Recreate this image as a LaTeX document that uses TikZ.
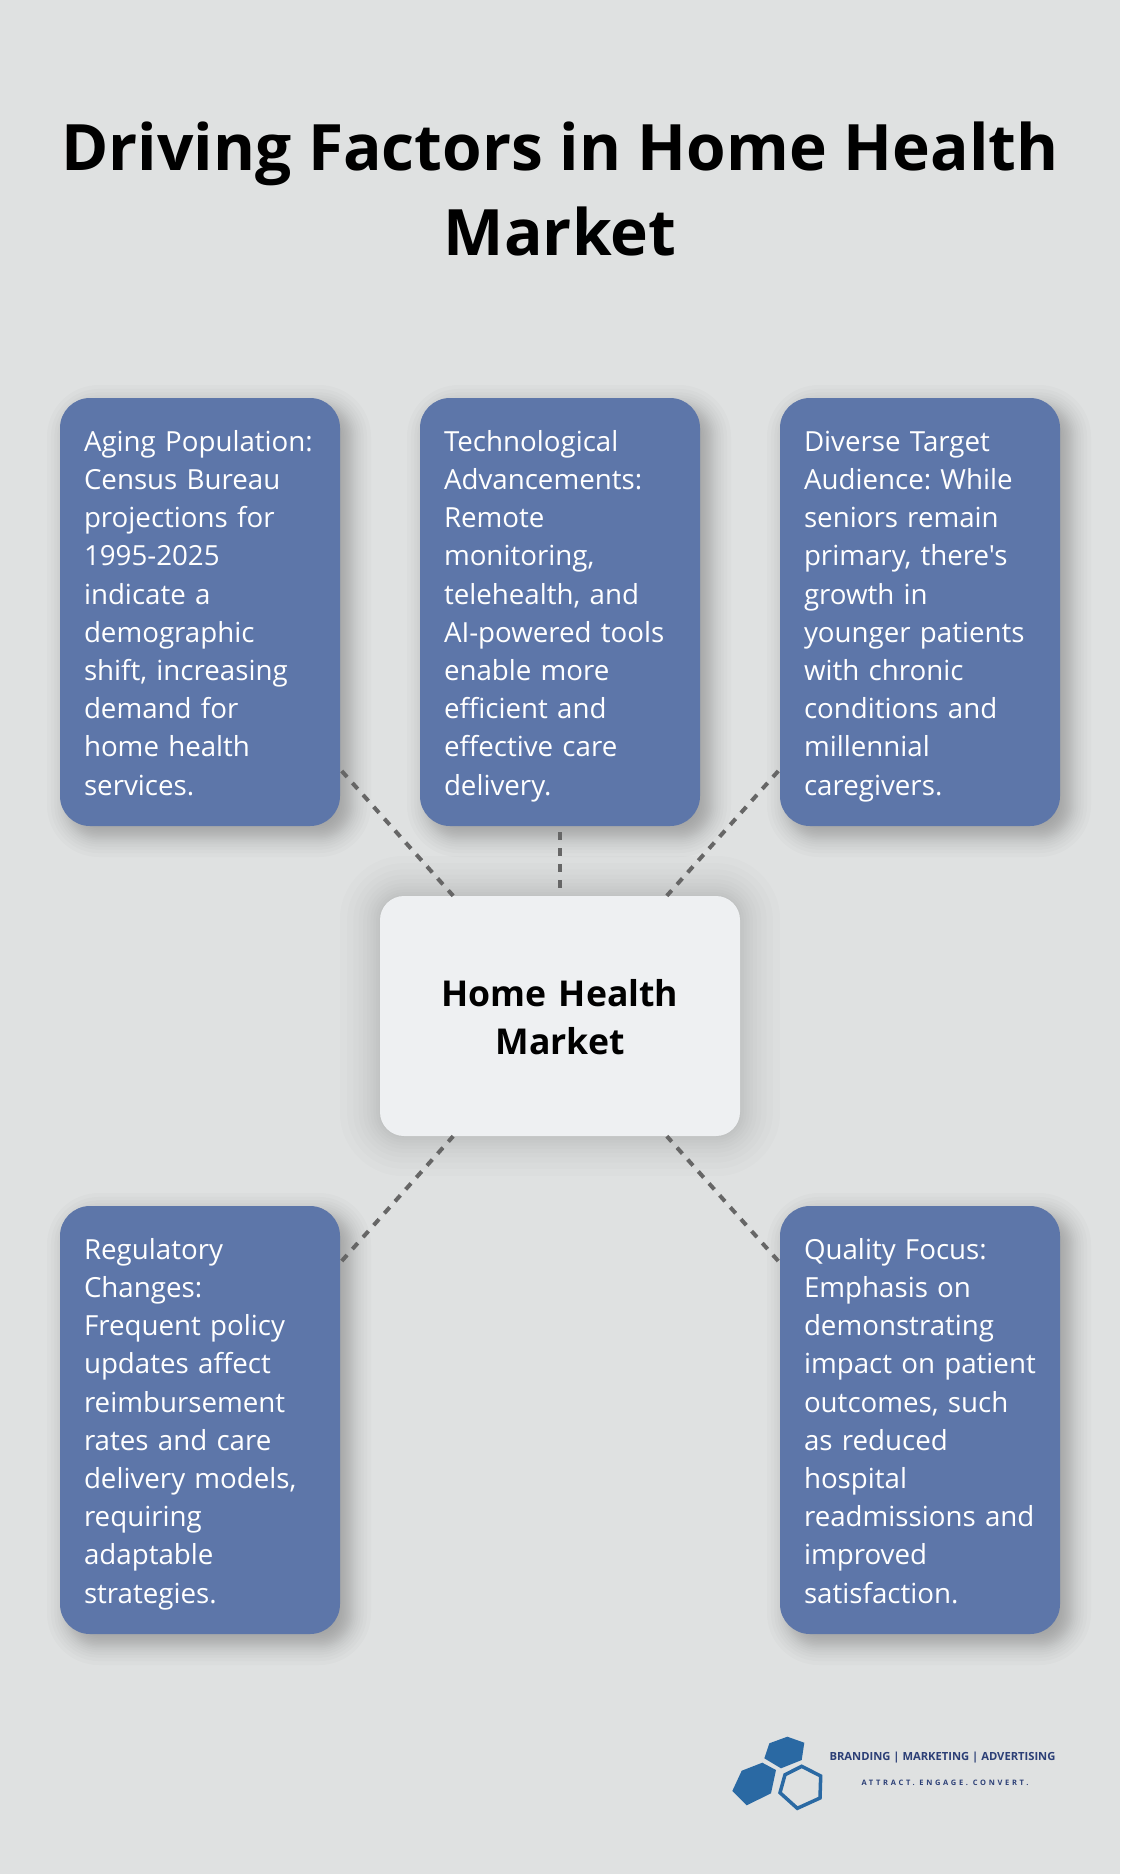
\documentclass[tikz,border=0pt]{standalone}
\usepackage{fontspec}
\newfontfamily\opensans{Open Sans}
\newfontfamily\taglinefont[LetterSpace=36]{Open Sans}
\usetikzlibrary{backgrounds}
\definecolor{pagegray}{HTML}{DFE1E1}
\definecolor{boxblue}{HTML}{5D76A9}
\definecolor{hubgray}{HTML}{EEF0F2}
\definecolor{dashgray}{HTML}{666666}
\definecolor{hexblue}{HTML}{2A69A3}
\definecolor{logonavy}{HTML}{2C3F76}
\newcommand{\softshadow}[5]{%
    \foreach \i in {1,...,20} {
        \pgfmathsetmacro{\frac}{(\i-10.5)/10}
        \pgfmathsetmacro{\grow}{#3*(0.55*\frac+0.45*\frac*\frac*\frac)}
        \pgfmathsetmacro{\rad}{max(#4+\grow,1)}
        \fill[black, opacity=#5, rounded corners=\rad pt]
            ([shift={(#2-\grow,#2-\grow)}]#1.north west) rectangle ([shift={(#2+\grow,#2+\grow)}]#1.south east);
    }}

\begin{document}
\frenchspacing
\begin{tikzpicture}[x=1pt, y=-1pt,
    factor/.style = {fill=boxblue, text=white, rounded corners=30pt, minimum width=280pt, minimum height=428pt,
        inner sep=0pt, text width=232pt, align=left, font=\opensans\fontsize{27.7}{38.2}\selectfont,
        execute at begin node={\hyphenpenalty=10000 \rightskip=-20pt plus 30pt \vrule height 34pt width 0pt},
        execute at end node=\strut},
    hub/.style = {fill=hubgray, rounded corners=24pt, minimum width=360pt, minimum height=240pt,
        inner sep=0pt, text width=300pt, align=center, font=\opensans\fontsize{35.6}{48}\selectfont\bfseries,
        execute at begin node={\vrule height 29pt width 0pt}},
    link/.style = {draw=dashgray, line width=4pt, dash pattern=on 8pt off 8pt}]
    \useasboundingbox (0,0) rectangle (1120,1874);

    % Nodes
    \node[align=center, font=\opensans\fontsize{64}{85}\selectfont\bfseries] (title) at (560,189) {Driving Factors in Home Health\\Market};

    \node[factor] (aging) at (200,612) {Aging Population:\\Census Bureau\\projections for\\1995-2025\\indicate a\\demographic\\shift, increasing\\demand for\\home health\\services.};
    \node[factor] (tech) at (560,612) {Technological\\Advancements:\\Remote\\monitoring,\\telehealth, and\\AI-powered tools\\enable more\\efficient and\\effective care\\delivery.};
    \node[factor] (audience) at (920,612) {Diverse Target\\Audience: While\\seniors remain\\primary, there's\\growth in\\younger patients\\with chronic\\conditions and\\millennial\\caregivers.};
    \node[factor] (regulatory) at (200,1420) {Regulatory\\Changes:\\Frequent policy\\updates affect\\reimbursement\\rates and care\\delivery models,\\requiring\\adaptable\\strategies.};
    \node[factor] (quality) at (920,1420) {Quality Focus:\\Emphasis on\\demonstrating\\impact on patient\\outcomes, such\\as reduced\\hospital\\readmissions and\\improved\\satisfaction.};

    \node[hub] (market) at (560,1016) {Home Health\\Market};

    \node[text=logonavy, font=\opensans\fontsize{11.2}{13}\selectfont\bfseries] (brand) at (942.5,1758) {BRANDING | MARKETING | ADVERTISING};
    \node[text=logonavy, font=\fontsize{7.5}{9}\selectfont\bfseries\taglinefont] (tagline) at (945,1783) {ATTRACT. ENGAGE. CONVERT.};

    % Edges
    \draw[link, dash phase=0.7pt] (market) -- (aging);
    \draw[link, dash phase=8pt] (market) -- (tech);
    \draw[link, dash phase=0.7pt] (market) -- (audience);
    \draw[link, dash phase=0.7pt] (market) -- (regulatory);
    \draw[link, dash phase=0.7pt] (market) -- (quality);

    % Logo
    \fill[hexblue] (787.3,1736.7) -- (804.3,1742.7) -- (801.7,1760) -- (781,1768.3) -- (764.3,1758.3) -- (769.3,1743.3) -- cycle;
    \fill[hexblue] (762.3,1762.7) -- (776,1770) -- (771,1793.3) -- (746.7,1805.3) -- (732.3,1791) -- (741.7,1770.7) -- cycle;
    \draw[hexblue, line width=3.5pt] (801.7,1766.3) -- (820.7,1776) -- (820,1798) -- (797.3,1808.3) -- (780,1792.7) -- (785,1774.7) -- cycle;

    % Page and shadows
    \begin{pgfonlayer}{background}
        \fill[pagegray] (0,0) rectangle (1120,1874);
        \foreach \n in {aging,tech,audience,regulatory,quality} {
            \softshadow{\n}{9}{24}{30}{0.0165}
        }
        \softshadow{market}{0}{44}{24}{0.011}
    \end{pgfonlayer}
\end{tikzpicture}
\end{document}
